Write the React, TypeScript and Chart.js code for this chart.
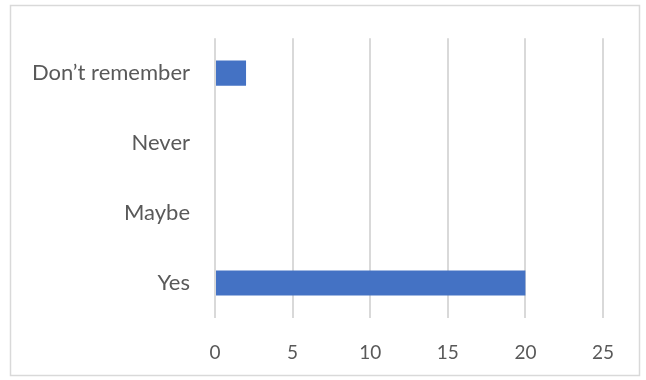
import React, { useEffect, useRef } from "react";
import { Chart, registerables } from "chart.js";

Chart.register(...registerables);

const categories = ["Don\u2019t remember", "Never", "Maybe", "Yes"];
const counts = [2, 0, 0, 20];
const xTicks = [0, 5, 10, 15, 20, 25];

const frame = {
  id: "frame",
  beforeDraw(chart: any) {
    const ctx = chart.ctx;
    ctx.save();
    ctx.fillStyle = "#ffffff";
    ctx.fillRect(0, 0, chart.width, chart.height);
    ctx.strokeStyle = "#d9d9d9";
    ctx.lineWidth = 1.5;
    ctx.strokeRect(10.5, 5.5, 629, 370);
    ctx.restore();
  },
};

export default function App() {
  const ref = useRef<HTMLCanvasElement>(null);
  useEffect(() => {
    const chart = new Chart(ref.current!, {
      type: "bar",
      data: {
        labels: categories,
        datasets: [
          {
            data: counts,
            backgroundColor: "#4472c4",
            categoryPercentage: 0.72,
            barPercentage: 0.5,
          },
        ],
      },
      options: {
        indexAxis: "y",
        animation: false,
        responsive: false,
        layout: { padding: { left: 10, right: 43, top: 35, bottom: 0 } },
        plugins: { legend: { display: false }, tooltip: { enabled: false } },
        scales: {
          x: {
            min: 0,
            max: 25,
            afterBuildTicks: (axis: any) => {
              axis.ticks = xTicks.map((v) => ({ value: v }));
            },
            afterFit: (axis: any) => {
              axis.height = 62;
            },
            grid: { color: "#d9d9d9", lineWidth: 2, drawTicks: false },
            border: { display: false },
            ticks: {
              color: "#595959",
              font: { family: "Lato", size: 19 },
              padding: 23,
            },
          },
          y: {
            afterFit: (axis: any) => {
              axis.width = 205;
            },
            grid: { display: false, drawTicks: false },
            border: { display: false },
            ticks: {
              color: "#595959",
              font: { family: "Lato", size: 22 },
              padding: 25,
            },
          },
        },
      },
      plugins: [frame],
    });
    return () => chart.destroy();
  }, []);
  return (
    <div style={{ position: "fixed", left: 0, top: 0, width: 646, height: 380 }}>
      <canvas ref={ref} width={646} height={380} />
    </div>
  );
}
